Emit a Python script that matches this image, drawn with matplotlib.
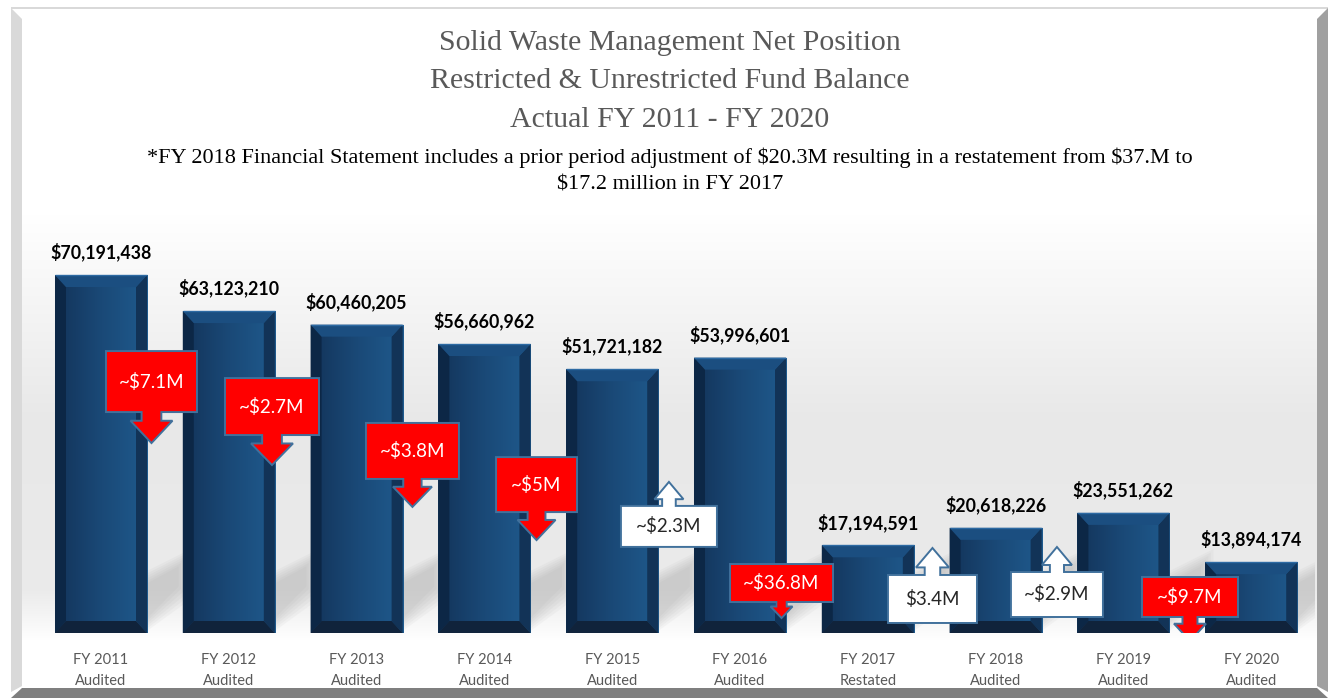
import numpy as np
import matplotlib
matplotlib.use("Agg")
import matplotlib.pyplot as plt
from matplotlib.patches import Polygon
from matplotlib.colors import LinearSegmentedColormap

plt.rcParams['text.parse_math'] = False

# ---------------- data ----------------
years = ['FY 2011', 'FY 2012', 'FY 2013', 'FY 2014', 'FY 2015',
         'FY 2016', 'FY 2017', 'FY 2018', 'FY 2019', 'FY 2020']
status = ['Audited', 'Audited', 'Audited', 'Audited', 'Audited',
          'Audited', 'Restated', 'Audited', 'Audited', 'Audited']
values = [70191438, 63123210, 60460205, 56660962, 51721182,
          53996601, 17194591, 20618226, 23551262, 13894174]
change_labels = ['~$7.1M', '~$2.7M', '~$3.8M', '~$5M', '~$2.3M',
                 '~$36.8M', '$3.4M', '~$2.9M', '~$9.7M']
change_dirs = ['down', 'down', 'down', 'down', 'up',
               'down', 'up', 'up', 'down']

title_lines = ['Solid Waste Management Net Position',
               'Restricted & Unrestricted Fund Balance',
               'Actual FY 2011 - FY 2020']
note_lines = ['*FY 2018 Financial Statement includes a prior period adjustment of $20.3M resulting in a restatement from $37.M to',
              '$17.2 million in FY 2017']

# callout layout: (x centre [category units], y centre [$], box w px, box h px, arrow length px, head half-width px)
callout_layout = [
    (0.395, 49.3e6, 91, 61, 31, 21),
    (1.338, 44.4e6, 94, 57, 30, 21),
    (2.437, 35.7e6, 93, 56, 28, 19.5),
    (3.408, 29.1e6, 81, 55, 28, 19),
    (4.444, 20.9e6, 96, 41, 24, 14.5),
    (5.325, 9.8e6, 103, 38, 16, 11),
    (6.506, 6.67e6, 89, 48, 27, 16.5),
    (7.480, 7.55e6, 92, 45, 25, 15),
    (8.521, 7.06e6, 96, 40, 24, 16),
]

# ---------------- figure ----------------
W, H = 1332, 698
fig = plt.figure(figsize=(W / 100, H / 100), dpi=100)
fig.patch.set_facecolor('white')

# background / frame axes in pixel units (decoration only)
bg = fig.add_axes([0, 0, 1, 1])
bg.set_xlim(0, W)
bg.set_ylim(H, 0)
bg.axis('off')

ys = np.arange(0, H)
gray = np.interp(ys, [0, 215, 420, 590, 640, H], [1.0, 1.0, 0.91, 0.92, 1.0, 1.0])
img = np.repeat(gray[:, None], 2, axis=1)
bg.imshow(np.dstack([img, img, img]), extent=[22, 1317, H, 0], aspect='auto',
          interpolation='bilinear', zorder=0)

# frame
bg.add_patch(Polygon([(11, 7), (1328, 7), (1328, 9), (11, 9)], closed=True,
                     facecolor='#d9d9d9', edgecolor='none', zorder=1))
bg.add_patch(Polygon([(11, 8), (22, 19), (22, 686), (11, 692)], closed=True,
                     facecolor='#d9d9d9', edgecolor='none', zorder=1))
bg.add_patch(Polygon([(1328, 8), (1317, 19), (1317, 686), (1328, 692)], closed=True,
                     facecolor='#a0a0a0', edgecolor='none', zorder=1))
bg.add_patch(Polygon([(11, 698), (22, 688), (1317, 688), (1328, 698)], closed=True,
                     facecolor='#7f7f7f', edgecolor='none', zorder=1))

# titles
serif = ['Liberation Serif', 'DejaVu Serif']
for txt, y in zip(title_lines, [43, 81, 120]):
    bg.text(670, y, txt, ha='center', va='center', fontsize=21.5, color='#595959',
            family=serif, zorder=3)
for txt, y in zip(note_lines, [158, 185]):
    bg.text(670, y, txt, ha='center', va='center', fontsize=16, color='black',
            family=serif, zorder=3)

# ---------------- main axes ----------------
left_px, right_px = 37.1, 37.1 + 1278
base_px, top_px = 633, 633 - 408
ax = fig.add_axes([left_px / W, (H - base_px) / H, (right_px - left_px) / W,
                   (base_px - top_px) / H])
ax.patch.set_alpha(0)
ax.axis('off')
XMIN, XMAX, YMIN, YMAX = -0.5, 9.5, 0, 80e6
ppx = (right_px - left_px) / (XMAX - XMIN)          # px per x unit
ppy = (base_px - top_px) / (YMAX - YMIN)            # px per $

x = np.arange(len(values))
bw = 0.72
bars = ax.bar(x, values, width=bw, color='#1a4775', edgecolor='none', zorder=3)

# soft cast shadows to the right of each bar
for b in bars:
    x1 = b.get_x() + b.get_width()
    hgt = b.get_height()
    top0 = min(62, hgt * ppy * 0.9)
    for k in range(6):
        s = k * 2.5
        pts = [(x1, (top0 - s) / ppy), (x1 + (44 - s) / ppx, (top0 + 22 - s * 1.4) / ppy),
               (x1 + (44 - s) / ppx, (34 + s) / ppy), (x1, (2 + s) / ppy)]
        ax.add_patch(Polygon(pts, closed=True, facecolor='#8c8c8c', edgecolor='none',
                             alpha=0.06, zorder=2))

cmap = LinearSegmentedColormap.from_list('face', ['#13345a', '#1a4977', '#1f5a8d'])
grad = np.linspace(0, 1, 64)[None, :]
bx = 11 / ppx
by = 12 / ppy
for b in bars:
    x0 = b.get_x()
    x1 = x0 + b.get_width()
    y1 = b.get_height()
    y0 = 0
    im = ax.imshow(grad, extent=[x0, x1, y0, y1], aspect='auto', cmap=cmap,
                   zorder=3.5, interpolation='bilinear')
    im.set_clip_path(b)
    ax.add_patch(Polygon([(x0, y0), (x0 + bx, y0 + by), (x0 + bx, y1 - by), (x0, y1)],
                         facecolor='#0c2746', edgecolor='none', zorder=4))
    ax.add_patch(Polygon([(x1, y0), (x1 - bx, y0 + by), (x1 - bx, y1 - by), (x1, y1)],
                         facecolor='#123357', edgecolor='none', zorder=4))
    ax.add_patch(Polygon([(x0, y1), (x0 + bx, y1 - by), (x1 - bx, y1 - by), (x1, y1)],
                         facecolor='#1b4e80', edgecolor='none', zorder=4))
    ax.add_patch(Polygon([(x0, y0), (x0 + bx, y0 + by), (x1 - bx, y0 + by), (x1, y0)],
                         facecolor='#10233b', edgecolor='none', zorder=4))
    ax.plot([x0, x1], [y1, y1], color='#2d6aa3', lw=1.0, zorder=4.5,
            solid_capstyle='butt')

sans = ['Lato', 'DejaVu Sans']
for xi, v in zip(x, values):
    ax.annotate(f'${v:,}', xy=(xi, v), xytext=(0, 16.5), textcoords='offset points',
                ha='center', va='center', fontsize=12.8, fontweight='bold',
                color='black', family=sans, zorder=6)

for xi, yr, st in zip(x, years, status):
    ax.annotate(yr, xy=(xi, 0), xytext=(0, -19.5), textcoords='offset points',
                ha='center', va='center', fontsize=10.5, color='#595959',
                family=sans, zorder=6)
    ax.annotate(st, xy=(xi, 0), xytext=(0, -34.5), textcoords='offset points',
                ha='center', va='center', fontsize=10.5, color='#595959',
                family=sans, zorder=6)

# callouts
for lab, d, (cx, cy, wpx, hpx, lpx, hhw) in zip(change_labels, change_dirs, callout_layout):
    w = wpx / ppx
    h = hpx / ppy
    L, R = cx - w / 2, cx + w / 2
    T, B = cy + h / 2, cy - h / 2
    hx = hhw / ppx
    sx = hhw * 0.47 / ppx
    head_len = lpx * 0.72 / ppy
    if d == 'down':
        tip = B - lpx / ppy
        hb = tip + head_len
        pts = [(L, T), (R, T), (R, B), (cx + sx, B), (cx + sx, hb), (cx + hx, hb),
               (cx, tip), (cx - hx, hb), (cx - sx, hb), (cx - sx, B), (L, B)]
        fc, tc = '#ff0000', 'white'
    else:
        tip = T + lpx / ppy
        hb = tip - head_len
        pts = [(L, B), (R, B), (R, T), (cx + sx, T), (cx + sx, hb), (cx + hx, hb),
               (cx, tip), (cx - hx, hb), (cx - sx, hb), (cx - sx, T), (L, T)]
        fc, tc = 'white', '#262626'
    ax.add_patch(Polygon(pts, closed=True, facecolor=fc, edgecolor='#41719c',
                         lw=1.4, joinstyle='miter', zorder=7))
    ax.text(cx, cy, lab, ha='center', va='center', fontsize=13.5, color=tc,
            family=sans, zorder=8)

ax.set_xlim(XMIN, XMAX)
ax.set_ylim(YMIN, YMAX)

fig.savefig('out.png', dpi=100, facecolor='white')
